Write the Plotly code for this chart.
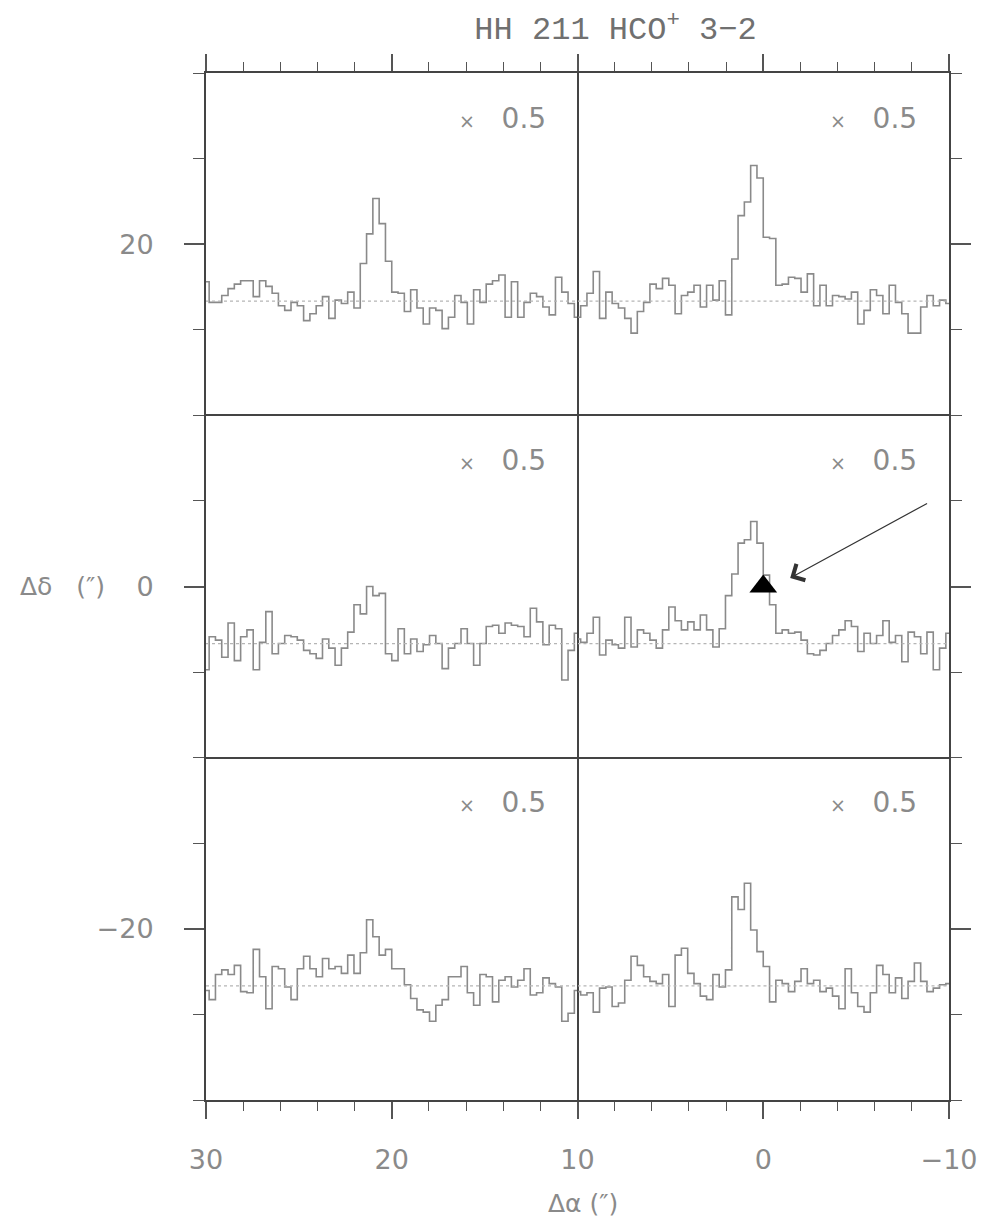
import plotly.graph_objects as go

# ---------------- data ----------------
N_CHAN = 60
channels = list(range(N_CHAN))

# spectra (arbitrary intensity units, baseline = 0), per channel
spec_tl = [17, -1, -1, 5, 11, 15, 18, 18, 4, 18, 13, 7, -4, -8, -1, -4, -17, -11, -4, 4,
           -15, 1, -2, 8, -6, 33, 59, 90, 68, 35, 8, 7, -9, 10, -6, -20, -6, -8, -24, -14,
           5, -1, -20, 10, -1, 15, 18, 23, -14, 17, -14, -1, 7, 4, -5, -12, 21, 8, -2, -14]
spec_tr = [-14, -4, 7, 26, -15, 8, -2, -6, -15, -28, -9, -1, 15, 11, 20, 14, -11, 5, 8, 14,
           -5, 14, 1, 18, -12, 37, 75, 87, 119, 108, 56, 55, 14, 15, 21, 20, 8, 24, -4, 14,
           -4, 5, 4, 2, 8, -20, -8, 10, 5, -11, 14, -1, -11, -28, -28, -5, 5, -4, 1, -2]
spec_ml = [-23, 6, 3, -12, 18, -15, 6, 12, -23, 1, 28, -9, 0, 7, 6, 3, -6, -9, -13, 4,
           -4, -19, -4, 10, 34, 26, 50, 42, 44, -9, -15, 13, -9, 4, -7, -1, 7, 0, -22, -4,
           0, 13, 0, -19, 0, 15, 16, 9, 18, 16, 15, 6, 31, 19, -1, 16, 13, -32, -6, 9]
spec_mr = [4, 1, 9, 23, -10, 3, -1, -4, 23, -3, 12, 9, 3, -4, 12, 32, 20, 12, 19, 12,
           25, 12, -3, 13, 42, 61, 88, 91, 107, 88, 60, 34, 9, 12, 9, 10, 3, -9, -10, -6,
           0, 7, 12, 20, 15, -7, 9, 0, 7, 20, 1, 7, -16, 10, 6, -9, 10, -23, -4, 9]
spec_bl = [-4, -12, 10, 14, 10, 18, -5, -6, 32, 8, -20, 17, 15, -1, -12, 15, 26, 15, 8, 24,
           15, 17, 11, 27, 11, 29, 58, 43, 27, 32, 15, 15, 1, -11, -21, -23, -31, -17, -12, 8,
           8, 17, -6, -17, 10, 8, -14, 5, 8, -1, 5, 15, -8, -6, 7, 2, -1, -31, -24, -4]
spec_br = [-5, -8, -6, -23, -2, -1, -18, -15, 5, 26, 18, 8, 4, 2, 10, -18, 27, 33, 11, 2,
           -9, -12, 10, -1, 14, 78, 67, 90, 49, 30, 17, -14, 5, 2, -5, 4, 15, 2, 5, -5,
           -2, -9, -20, 15, -6, -18, -23, -6, 18, 10, -6, 7, -11, 4, 20, 4, -5, -2, 1, 2]

SCALE_FACTORS = [0.5, 0.5, 0.5, 0.5, 0.5, 0.5]
BASELINE = 0
INTENSITY_RANGE = [-100, 200]

RA_RANGE = [30, -10]
DEC_RANGE = [-30, 30]
SOURCE_RA = [0]
SOURCE_DEC = [0]

TITLE = "HH 211 HCO<sup>+</sup> 3\u22122"
XLABEL = "\u0394\u03b1\u00a0(\u2033)"
YLABEL = "\u0394\u03b4\u00a0\u00a0\u00a0(\u2033)"

# ---------------- figure ----------------
spectra = [spec_tl, spec_tr, spec_ml, spec_mr, spec_bl, spec_br]
grid = [(0, 0), (1, 0), (0, 1), (1, 1), (0, 2), (1, 2)]  # (col, row)

FRAME = "#444444"
SPEC = "#8a8a8a"
TEXT = "#8a8a8a"
FONT = "DejaVu Sans"

fig = go.Figure()
layout = {}
annotations = []

for k, (spec, (col, row), s) in enumerate(zip(spectra, grid, SCALE_FACTORS)):
    n = k + 1
    xa = "x" if n == 1 else f"x{n}"
    ya = "y" if n == 1 else f"y{n}"
    fig.add_trace(go.Scatter(x=channels, y=spec, mode="lines",
                             line=dict(shape="hvh", color=SPEC, width=1.6),
                             xaxis=xa, yaxis=ya, showlegend=False, hoverinfo="skip"))
    fig.add_trace(go.Scatter(x=[channels[0], channels[-1]], y=[BASELINE, BASELINE],
                             mode="lines", line=dict(color="#b5b5b5", width=1.2, dash="dot"),
                             xaxis=xa, yaxis=ya, showlegend=False, hoverinfo="skip"))
    key = "" if n == 1 else str(n)
    layout[f"xaxis{key}"] = dict(domain=[col / 2, (col + 1) / 2],
                                 range=[channels[0], channels[-1]], anchor=ya,
                                 showline=True, mirror=True, linecolor=FRAME, linewidth=1.3,
                                 showticklabels=False, ticks="", showgrid=False,
                                 zeroline=False)
    layout[f"yaxis{key}"] = dict(domain=[(2 - row) / 3, (3 - row) / 3],
                                 range=INTENSITY_RANGE, anchor=xa,
                                 showline=True, mirror=True, linecolor=FRAME, linewidth=1.3,
                                 showticklabels=False, ticks="", showgrid=False,
                                 zeroline=False)
    annotations.append(dict(text=f"<span style='font-size:19px'>\u00d7</span>\u00a0\u00a0\u00a0{s}",
                            xref=f"{xa} domain", yref=f"{ya} domain",
                            x=0.92, y=0.868, xanchor="right", yanchor="middle",
                            showarrow=False,
                            font=dict(family=FONT, size=28, color=TEXT)))

# map axes (drawn last, on top)
fig.add_trace(go.Scatter(x=SOURCE_RA, y=SOURCE_DEC, mode="markers",
                         marker=dict(symbol="triangle-up", size=24, color="black"),
                         xaxis="x7", yaxis="y7", showlegend=False))

tickfont = dict(family=FONT, size=27, color=TEXT)
layout["xaxis7"] = dict(domain=[0, 1], range=RA_RANGE, anchor="y7",
                        showline=True, mirror="allticks", linecolor=FRAME, linewidth=2,
                        ticks="outside", ticklen=17, tickwidth=1.5, tickcolor="#555555",
                        tick0=0, dtick=10,
                        minor=dict(ticks="outside", ticklen=9, tickwidth=1.2,
                                   tickcolor="#555555", dtick=2, tick0=0),
                        tickfont=tickfont, ticklabelstandoff=18,
                        showgrid=False, zeroline=False)
layout["yaxis7"] = dict(domain=[0, 1], range=DEC_RANGE, anchor="x7",
                        showline=True, mirror="allticks", linecolor=FRAME, linewidth=2,
                        ticks="outside", ticklen=20, tickwidth=1.5, tickcolor="#555555",
                        tick0=0, dtick=20,
                        minor=dict(ticks="outside", ticklen=11, tickwidth=1.2,
                                   tickcolor="#555555", dtick=5, tick0=0),
                        tickfont=tickfont, ticklabelstandoff=25,
                        showgrid=False, zeroline=False)

# arrow pointing at the source
annotations.append(dict(x=-1.45, y=0.5, ax=-8.9, ay=4.9, xref="x7", yref="y7",
                        axref="x7", ayref="y7", text="", showarrow=True,
                        arrowhead=4, arrowsize=3.0, arrowwidth=1.2, arrowcolor="#333333"))

# axis titles
annotations.append(dict(text=XLABEL, xref="paper", yref="paper", x=0.507, y=-0.1003,
                        xanchor="center", yanchor="middle", showarrow=False,
                        font=dict(family=FONT, size=25, color=TEXT)))
annotations.append(dict(text=YLABEL, xref="paper", yref="paper", x=-0.253, y=0.5,
                        xanchor="left", yanchor="middle", showarrow=False,
                        font=dict(family=FONT, size=25, color=TEXT)))

fig.update_layout(**layout)
fig.update_layout(
    width=980, height=1212,
    margin=dict(l=198, r=39, t=65, b=120),
    paper_bgcolor="white", plot_bgcolor="rgba(0,0,0,0)",
    showlegend=False,
    annotations=annotations,
    title=dict(text=TITLE, x=607.5 / 980, xanchor="center", y=1 - 20 / 1212,
               yanchor="middle",
               font=dict(family="Liberation Mono", size=32, color="#707070")),
)

fig.write_html("out.html")
